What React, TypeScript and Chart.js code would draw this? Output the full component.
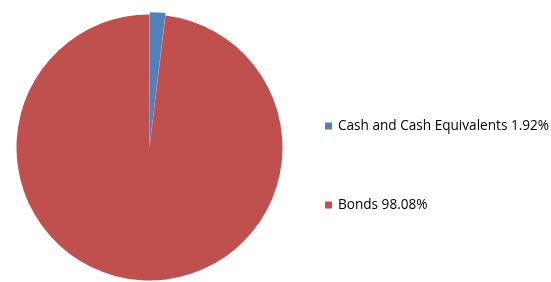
import React, { useEffect, useRef } from "react";
import { Chart, registerables } from "chart.js";

Chart.register(...registerables);

const categories = ["Cash and Cash Equivalents", "Bonds"];
const values = [1.92, 98.08];
const colors = ["#4F81BD", "#C0504D"];
const offsets = [5, 0];

const legendPlugin = {
  id: "sideLegend",
  afterDraw(chart: any) {
    const ctx = chart.ctx;
    const ys = [126, 205];
    ctx.save();
    ctx.font = "13.6px 'Open Sans', 'Noto Sans', sans-serif";
    ctx.textBaseline = "middle";
    ctx.textAlign = "left";
    chart.data.labels.forEach((label: string, i: number) => {
      const y = ys[i];
      ctx.fillStyle = colors[i];
      ctx.fillRect(325, y - 3.5, 7, 7);
      ctx.fillStyle = "#000000";
      const v = chart.data.datasets[0].data[i];
      ctx.fillText(`${label} ${v.toFixed(2)}%`, 338, y);
    });
    ctx.restore();
  },
};

export default function App() {
  const ref = useRef<HTMLCanvasElement>(null);
  useEffect(() => {
    if (!ref.current) return;
    const chart = new Chart(ref.current, {
      type: "pie",
      data: {
        labels: categories,
        datasets: [
          {
            data: values,
            backgroundColor: colors,
            borderWidth: 0,
            offset: offsets,
          },
        ],
      },
      options: {
        responsive: false,
        animation: false,
        devicePixelRatio: 1,
        layout: { padding: { left: 14, right: 266, top: 12, bottom: 3 } },
        plugins: {
          legend: { display: false },
          tooltip: { enabled: false },
        },
      },
      plugins: [legendPlugin],
    });
    return () => chart.destroy();
  }, []);
  return (
    <div style={{ position: "fixed", left: 0, top: 0, width: 551, height: 282, overflow: "hidden", background: "#fff" }}>
      <canvas ref={ref} width={551} height={286} style={{ display: "block" }} />
    </div>
  );
}
